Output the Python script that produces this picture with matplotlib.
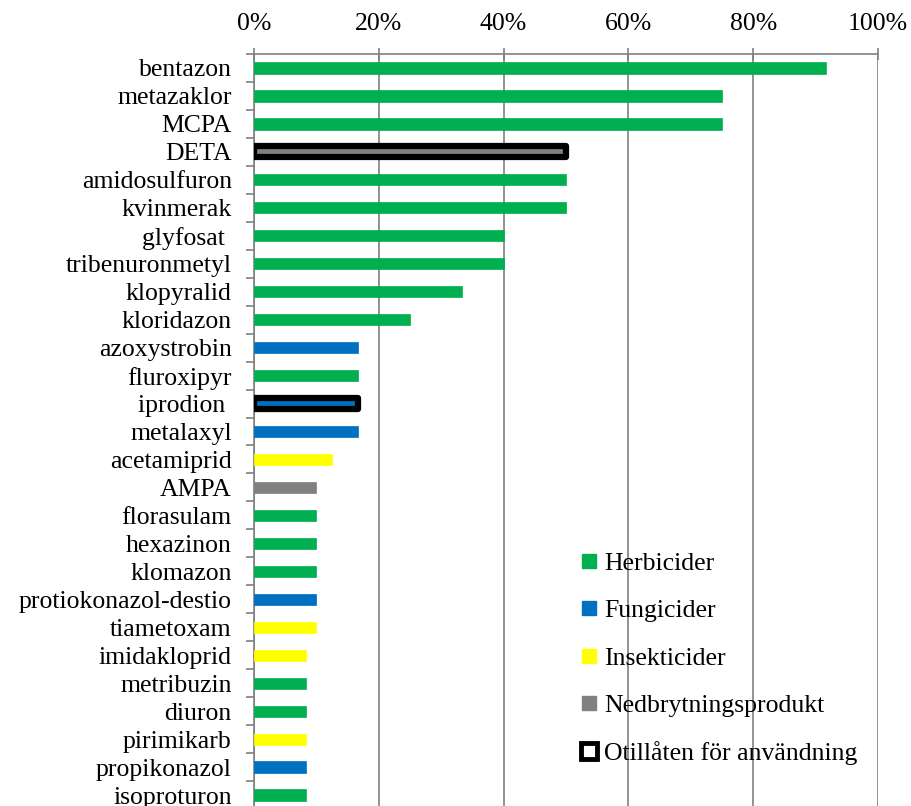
import matplotlib.pyplot as plt
from matplotlib.lines import Line2D
from matplotlib.ticker import FixedLocator, PercentFormatter

plt.rcParams['font.family'] = ['Liberation Serif', 'DejaVu Serif']

substances = ['bentazon', 'metazaklor', 'MCPA', 'DETA', 'amidosulfuron', 'kvinmerak',
              'glyfosat ', 'tribenuronmetyl', 'klopyralid', 'kloridazon', 'azoxystrobin',
              'fluroxipyr', 'iprodion ', 'metalaxyl', 'acetamiprid', 'AMPA', 'florasulam',
              'hexazinon', 'klomazon', 'protiokonazol-destio', 'tiametoxam', 'imidakloprid',
              'metribuzin', 'diuron', 'pirimikarb', 'propikonazol', 'isoproturon']
shares = [91.7, 75, 75, 50, 50, 50, 40, 40, 33.3, 25, 16.7, 16.7, 16.7, 16.7, 12.5, 10,
          10, 10, 10, 10, 10, 8.3, 8.3, 8.3, 8.3, 8.3, 8.3]
groups = ['H', 'H', 'H', 'N', 'H', 'H', 'H', 'H', 'H', 'H', 'F', 'H', 'F', 'F', 'I', 'N',
          'H', 'H', 'H', 'F', 'I', 'I', 'H', 'H', 'I', 'F', 'H']
not_allowed = ['DETA', 'iprodion ']

group_names = {'H': 'Herbicider', 'F': 'Fungicider', 'I': 'Insekticider',
               'N': 'Nedbrytningsprodukt'}
colors = {'H': '#00B050', 'F': '#0070C0', 'I': '#FFFF00', 'N': '#808080'}

fs = 18.5

fig = plt.figure(figsize=(9.12, 8.06), dpi=100)
ax = fig.add_axes([254 / 912, 1 - 809 / 806, 624 / 912, 755 / 806])

n = len(substances)
ypos = list(range(n))
for y, s, v, g in zip(ypos, substances, shares, groups):
    if s in not_allowed:
        ax.barh(y, v, height=0.4, color=colors[g], edgecolor='black', linewidth=4.5,
                joinstyle='round', zorder=3)
    else:
        ax.barh(y, v, height=0.4, color=colors[g], edgecolor=colors[g], linewidth=0.5,
                zorder=3)

ax.set_xlim(0, 100)
ax.set_ylim(n - 0.5, -0.5)
ax.xaxis.set_major_locator(FixedLocator([0, 20, 40, 60, 80, 100]))
ax.xaxis.set_major_formatter(PercentFormatter(decimals=0))
ax.xaxis.tick_top()
ax.tick_params(axis='x', which='major', direction='inout', length=8, color='#808080',
               width=1.2, pad=10, labelsize=fs)
ax.grid(axis='x', color='#808080', linewidth=1.2, zorder=0)

ax.set_yticks(ypos)
ax.set_yticklabels(substances)
ax.tick_params(axis='y', which='major', length=0, pad=16, labelsize=fs)
ax.yaxis.set_minor_locator(FixedLocator([i + 0.5 for i in range(-1, n)]))
ax.tick_params(axis='y', which='minor', direction='out', length=6, color='#808080',
               width=1.2)

for side in ['right', 'bottom']:
    ax.spines[side].set_visible(False)
ax.spines['top'].set_color('#808080')
ax.spines['left'].set_color('#808080')
ax.spines['top'].set_linewidth(1.2)
ax.spines['left'].set_linewidth(1.2)

handles = [Line2D([], [], marker='s', linestyle='', markersize=10,
                  markerfacecolor=colors[k], markeredgecolor=colors[k])
           for k in ['H', 'F', 'I', 'N']]
handles.append(Line2D([], [], marker='s', linestyle='', markersize=11,
                      markerfacecolor='white', markeredgecolor='black',
                      markeredgewidth=3.5))
labels = [group_names[k] for k in ['H', 'F', 'I', 'N']] + ['Otillåten för användning']
fig.legend(handles, labels, loc='upper left', bbox_to_anchor=(568 / 912, 1 - 539 / 806),
           frameon=False, fontsize=fs, labelspacing=0.95, handlelength=0.6,
           handletextpad=0.3, borderpad=0)

fig.savefig('out.png', dpi=100)
